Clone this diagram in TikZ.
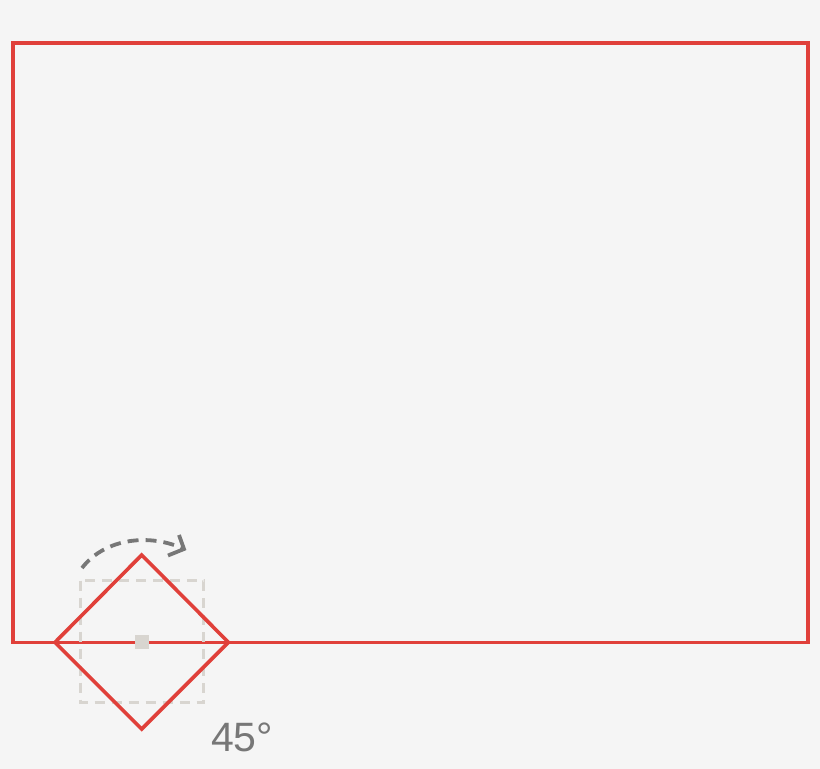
\documentclass[tikz,border=0pt]{standalone}
\usepackage{fontspec}
\setmainfont{Liberation Sans}
\definecolor{bg}{HTML}{F5F5F5}
\definecolor{redline}{HTML}{E0403A}
\definecolor{ghost}{HTML}{D8D5D0}
\definecolor{arrowgray}{HTML}{777777}
\tikzset{
  redshape/.style={draw=redline, line width=3.6pt, line join=miter},
  ghostbox/.style={draw=ghost, line width=3.2pt, dash pattern=on 10pt off 7pt},
  rotarc/.style={draw=arrowgray, line width=3.8pt, dash pattern=on 11pt off 7pt},
  chevron/.style={draw=arrowgray, line width=3.8pt, line join=miter},
  anglelabel/.style={text=arrowgray, font=\fontsize{41}{41}\selectfont, inner sep=0pt}
}
\begin{document}
\begin{tikzpicture}[x=1pt,y=-1pt]
\fill[bg] (0,0) rectangle (820,769);
\useasboundingbox (0,0) rectangle (820,769);
% big rectangle
\draw[redshape] (12.7,43) rectangle (808,642.3);
% ghost square
\draw[ghostbox] (80.5,580.5) rectangle (203.5,702.5);
\node[fill=ghost, minimum size=14pt, inner sep=0pt] (ctr) at (142,641.8) {};
% diamond
\coordinate (dl) at (55,642.3);
\coordinate (dt) at (141.7,555);
\coordinate (dr) at (228.4,642.3);
\coordinate (db) at (141.7,729);
\draw[redshape] (dl) -- (dt) -- (dr) -- (db) -- cycle;
% rotation arrow
\coordinate (as) at (82,568);
\coordinate (ae) at (184,549);
\coordinate (cu) at (179,535);
\coordinate (cl) at (168,555.5);
\draw[rotarc] (as) .. controls (105,538) and (150,533) .. (ae);
\draw[chevron] (cu) -- (ae) -- (cl);
% label
\node[anglelabel] (lbl) at (242,737) {45°};
\end{tikzpicture}
\end{document}
